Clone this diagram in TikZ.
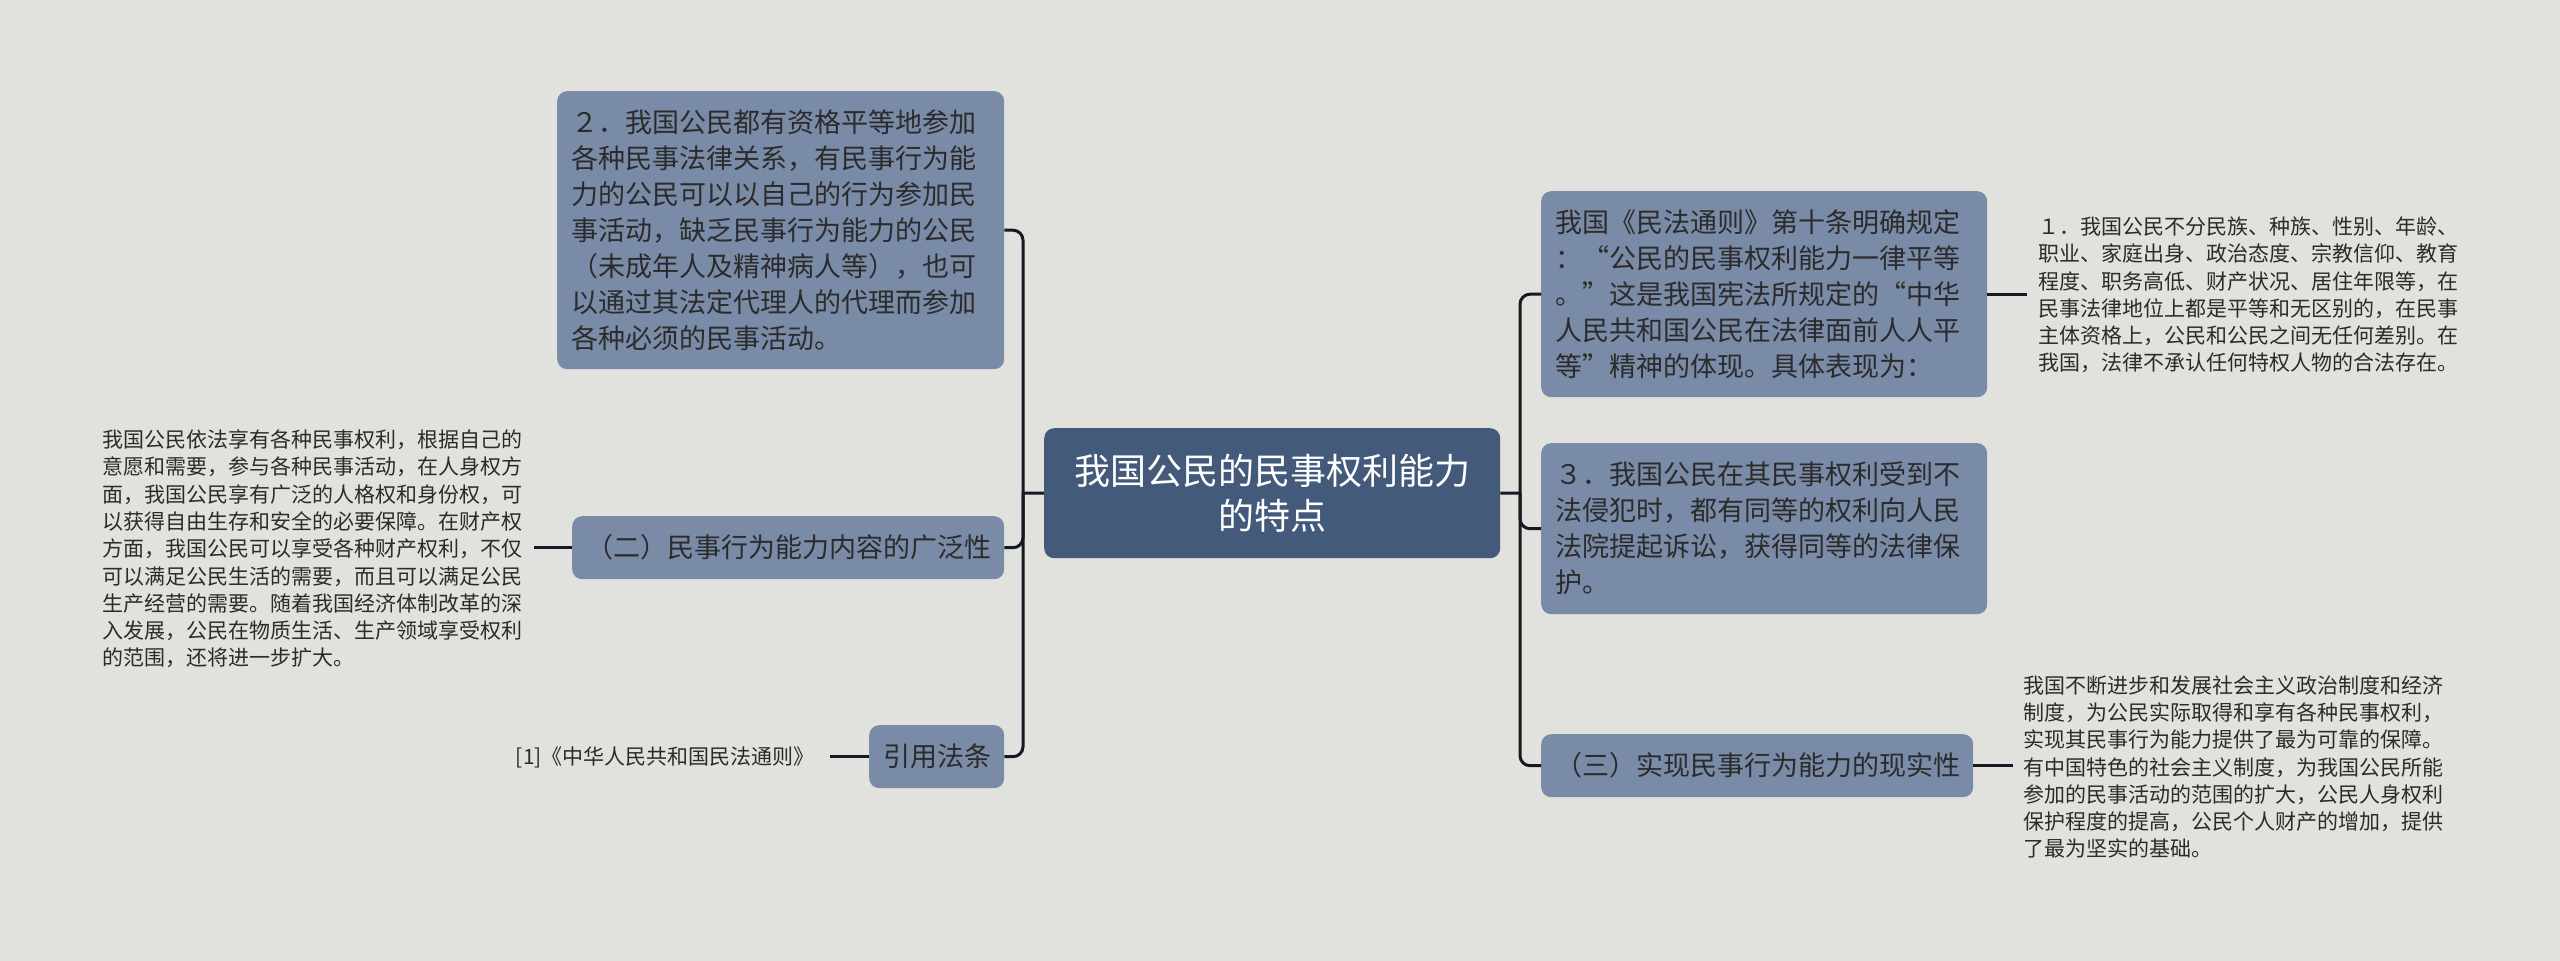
\documentclass[tikz,border=0pt]{standalone}
\usepackage{fontspec}
\newfontfamily\cjk{Noto Sans CJK SC}
\definecolor{bgc}{HTML}{E1E2DD}
\definecolor{boxc}{HTML}{7A8BA8}
\definecolor{darkc}{HTML}{445A7A}
\definecolor{txtc}{HTML}{2B2B2B}
\definecolor{linec}{HTML}{141A22}
\tikzset{
  box/.style={fill=boxc, rounded corners=10pt, inner xsep=14pt, inner ysep=0pt, anchor=north west, text=txtc, font=\cjk\fontsize{27pt}{36pt}\selectfont, align=left},
  rootbox/.style={fill=darkc, rounded corners=10pt, inner sep=0pt, anchor=north west, text=white, font=\cjk\fontsize{36pt}{45pt}\selectfont, align=center},
  leaf/.style={inner ysep=0pt, text=txtc, font=\cjk\fontsize{21pt}{27.3pt}\selectfont, align=left},
  conn/.style={draw=linec, line width=3pt},
  branch/.style={conn, rounded corners=10pt}
}
\begin{document}
\begin{tikzpicture}[x=1pt,y=-1pt]
\fill[bgc] (0,0) rectangle (2560,961);
\useasboundingbox (0,0) rectangle (2560,961);

% root
\node[rootbox, minimum width=456pt, minimum height=130pt, text width=440pt] (root) at (1044,428) {我国公民的民事权利能力\\的特点};

% left side
\node[box, minimum width=447pt, minimum height=278pt, text width=419pt] (n2) at (557,91) {２．我国公民都有资格平等地参加\\各种民事法律关系，有民事行为能\\力的公民可以以自己的行为参加民\\事活动，缺乏民事行为能力的公民\\（未成年人及精神病人等），也可\\以通过其法定代理人的代理而参加\\各种必须的民事活动。};
\node[box, minimum width=432pt, minimum height=63pt, text width=404pt, align=center] (n22) at (572,516) {（二）民事行为能力内容的广泛性};
\node[box, minimum width=135pt, minimum height=63pt, text width=107pt, align=center] (cite) at (869,725) {引用法条};

\node[leaf, inner xsep=10pt, text width=422pt, anchor=west] (l1) at (92,549) {我国公民依法享有各种民事权利，根据自己的\\意愿和需要，参与各种民事活动，在人身权方\\面，我国公民享有广泛的人格权和身份权，可\\以获得自由生存和安全的必要保障。在财产权\\方面，我国公民可以享受各种财产权利，不仅\\可以满足公民生活的需要，而且可以满足公民\\生产经营的需要。随着我国经济体制改革的深\\入发展，公民在物质生活、生产领域享受权利\\的范围，还将进一步扩大。};
\node[leaf, inner xsep=15pt, anchor=east] (l2) at (830,757) {[1]《中华人民共和国民法通则》};

% right side
\node[box, minimum width=446pt, minimum height=206pt, text width=418pt] (na) at (1541,191) {我国《民法通则》第十条明确规定\\：“公民的民事权利能力一律平等\\。”这是我国宪法所规定的“中华\\人民共和国公民在法律面前人人平\\等”精神的体现。具体表现为：};
\node[box, minimum width=446pt, minimum height=171pt, text width=418pt] (nb) at (1541,443) {３．我国公民在其民事权利受到不\\法侵犯时，都有同等的权利向人民\\法院提起诉讼，获得同等的法律保\\护。};
\node[box, minimum width=432pt, minimum height=63pt, text width=404pt, align=center] (nc) at (1541,734) {（三）实现民事行为能力的现实性};

\node[leaf, inner xsep=11pt, text width=422pt, anchor=west] (r1) at (2027,295) {１．我国公民不分民族、种族、性别、年龄、\\职业、家庭出身、政治态度、宗教信仰、教育\\程度、职务高低、财产状况、居住年限等，在\\民事法律地位上都是平等和无区别的，在民事\\主体资格上，公民和公民之间无任何差别。在\\我国，法律不承认任何特权人物的合法存在。};
\node[leaf, inner xsep=10pt, text width=422pt, anchor=west] (r2) at (2013,767) {我国不断进步和发展社会主义政治制度和经济\\制度，为公民实际取得和享有各种民事权利，\\实现其民事行为能力提供了最为可靠的保障。\\有中国特色的社会主义制度，为我国公民所能\\参加的民事活动的范围的扩大，公民人身权利\\保护程度的提高，公民个人财产的增加，提供\\了最为坚实的基础。};

% connectors
\coordinate (lb) at (1023,493);
\coordinate (rb) at (1520,493);
\draw[conn] (root.west) -- (lb);
\draw[conn] (root.east) -- (rb);
\draw[branch] (lb) |- (n2.east);
\draw[branch] (lb) |- (n22.east);
\draw[branch] (lb) |- (cite.east);
\draw[branch] (rb) |- (na.west);
\draw[branch] (rb) |- (nb.west);
\draw[branch] (rb) |- (nc.west);
\draw[conn] (n22.west) -- (n22.west -| l1.east);
\draw[conn] (cite.west) -- (cite.west -| l2.east);
\draw[conn] (na.east) -- (na.east -| r1.west);
\draw[conn] (nc.east) -- (nc.east -| r2.west);
\end{tikzpicture}
\end{document}
